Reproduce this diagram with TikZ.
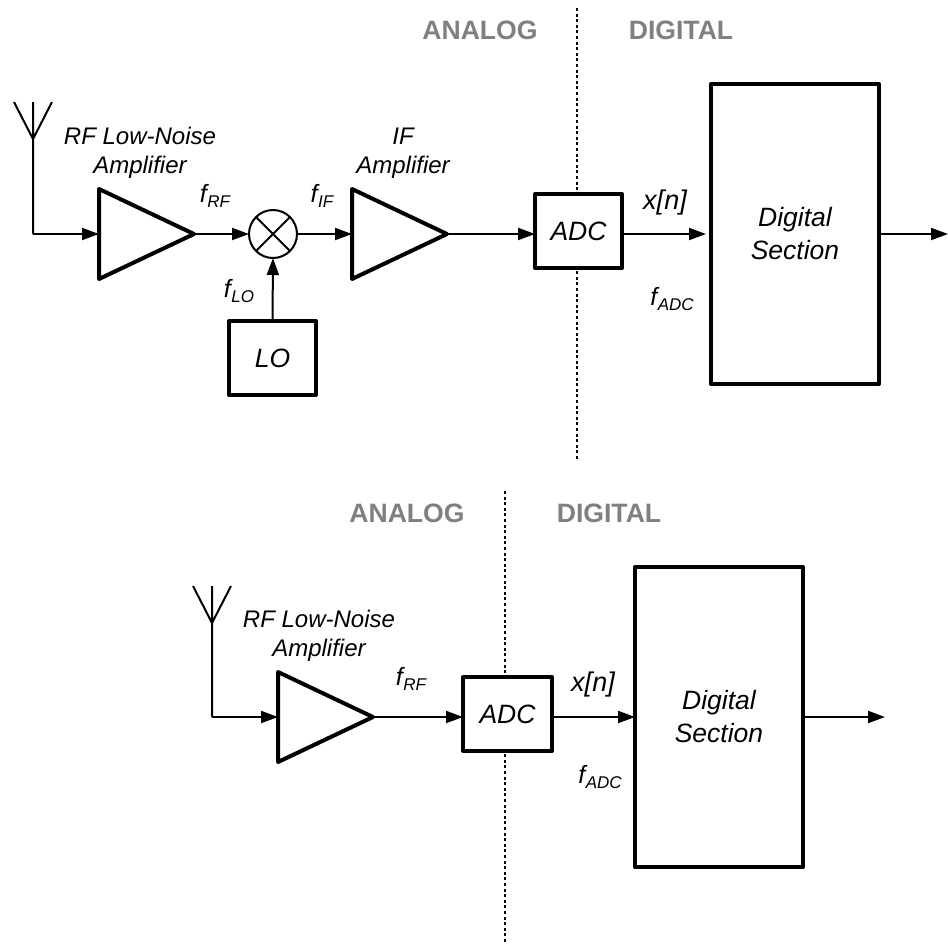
\documentclass[tikz,border=0pt]{standalone}
\usepackage{fontspec}
\setmainfont{Liberation Sans}
\usetikzlibrary{arrows.meta,shapes.geometric}
\newcommand{\fsub}[1]{\textit{f\kern0.5pt\raisebox{-5pt}{\fontsize{17}{17}\selectfont #1}}}
\tikzset{
  wire/.style={line width=2pt,-{Triangle[length=17pt,width=12pt]}},
  plainline/.style={line width=2pt},
  thickbox/.style={draw,line width=4pt,fill=white,rectangle,inner sep=0pt,outer sep=0pt,font=\fontsize{26.5}{33}\selectfont\itshape,align=center,line join=round},
  amp/.style={draw,line width=4pt,fill=white,isosceles triangle,isosceles triangle stretches,shape border rotate=0,minimum width=90pt,minimum height=95pt,inner sep=0pt,outer sep=0pt,line join=round,anchor=lower side},
  mixer/.style={draw,line width=2pt,circle,minimum size=48pt,inner sep=0pt,outer sep=0pt},
  lab/.style={font=\fontsize{24}{29.5}\selectfont\itshape,align=center,inner sep=0pt},
  seqlab/.style={font=\fontsize{27}{30}\selectfont\itshape,inner sep=0pt},
  sublab/.style={font=\fontsize{25}{29}\selectfont,inner sep=0pt},
  domtext/.style={font=\fontsize{26.6}{30}\selectfont\bfseries,text=black!50,inner sep=0pt},
  divider/.style={line width=1.6pt,dash pattern=on 3pt off 2.6pt}
}
\begin{document}
\begin{tikzpicture}[x=1pt,y=-1pt]
\useasboundingbox (0,0) rectangle (948,943);
% dividers
\coordinate (d1a) at (577,8); \coordinate (d1b) at (577,460);
\coordinate (d2a) at (505,491); \coordinate (d2b) at (505,942);
\draw[divider] (d1a) -- (d1b);
\draw[divider] (d2a) -- (d2b);
\node[domtext] (an1) at (480,30) {ANALOG};
\node[domtext] (di1) at (681,30) {DIGITAL};
\node[domtext] (an2) at (407,513) {ANALOG};
\node[domtext] (di2) at (609,513) {DIGITAL};
% top chain
\coordinate (at1) at (33,102); \coordinate (atl1) at (14,102); \coordinate (atr1) at (52,102);
\coordinate (ap1) at (33,139); \coordinate (ac1) at (33,234);
\draw[plainline,line join=miter] (atl1) -- (ap1) -- (atr1) (at1) -- (ac1);
\node[amp] (lna1) at (99,234) {};
\node[mixer] (mix) at (273,234) {};
\draw[plainline] (mix.north west) -- (mix.south east) (mix.north east) -- (mix.south west);
\node[amp] (ifa) at (352,234) {};
\node[thickbox,minimum width=87pt,minimum height=74pt] (adc1) at (578.5,231) {ADC};
\node[thickbox,minimum width=168pt,minimum height=300pt] (dig1) at (795,234) {Digital\\Section};
\node[thickbox,minimum width=87pt,minimum height=74pt] (lo) at (272.5,358) {LO};
\coordinate (out1) at (948,234);
\draw[wire] (ac1) -- (lna1.lower side |- ac1);
\draw[wire] (lna1.apex) -- (mix.west);
\draw[wire] (mix.east) -- (ifa.lower side |- mix.east);
\draw[wire] (lo.north) -- (mix.south);
\draw[wire] (ifa.apex) -- (adc1.west |- ifa.apex);
\draw[wire] (adc1.east |- dig1.west) -- ([xshift=-5pt]dig1.west);
\draw[wire] (dig1.east) -- (out1);
\node[lab] (t1) at (140,153) {RF Low-Noise\\Amplifier};
\node[lab] (t2) at (403,153) {IF\\Amplifier};
\node[sublab] (frf1) at (215,196) {\fsub{RF}};
\node[sublab] (fif) at (322,196) {\fsub{IF}};
\node[sublab] (flo) at (239,291) {\fsub{LO}};
\node[seqlab] (xn1) at (665,203) {x[n]};
\node[sublab] (fadc1) at (672,299) {\fsub{ADC}};
% bottom chain
\coordinate (at2) at (212,586); \coordinate (atl2) at (193,586); \coordinate (atr2) at (231,586);
\coordinate (ap2) at (212,623); \coordinate (ac2) at (212,717);
\draw[plainline,line join=miter] (atl2) -- (ap2) -- (atr2) (at2) -- (ac2);
\node[amp] (lna2) at (278,717) {};
\node[thickbox,minimum width=89pt,minimum height=74pt] (adc2) at (507.5,714) {ADC};
\node[thickbox,minimum width=168pt,minimum height=300pt] (dig2) at (719,717) {Digital\\Section};
\coordinate (out2) at (885,717);
\draw[wire] (ac2) -- (lna2.lower side |- ac2);
\draw[wire] (lna2.apex) -- (adc2.west |- lna2.apex);
\draw[wire] (adc2.east |- dig2.west) -- (dig2.west);
\draw[wire] (dig2.east) -- (out2);
\node[lab] (t3) at (319,636) {RF Low-Noise\\Amplifier};
\node[sublab] (frf2) at (411,679) {\fsub{RF}};
\node[seqlab] (xn2) at (593,685) {x[n]};
\node[sublab] (fadc2) at (600,777) {\fsub{ADC}};
\end{tikzpicture}
\end{document}
